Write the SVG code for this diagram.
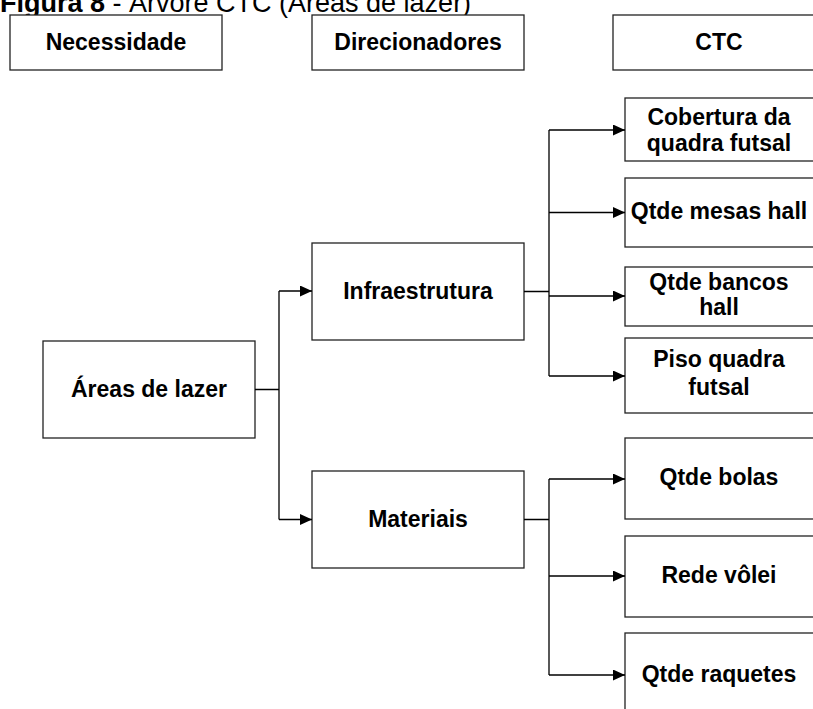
<svg xmlns="http://www.w3.org/2000/svg" width="813" height="709" viewBox="0 0 813 709">
<defs>
<style>
.box{fill:#fff;stroke:#222;stroke-width:1.3}
.lbl{font-family:"Liberation Sans",Arial,sans-serif;font-weight:bold;font-size:23px;fill:#000;text-anchor:middle}
.ttl{font-family:"Liberation Sans",Arial,sans-serif;font-size:27px;fill:#000}
.ln{fill:none;stroke:#000;stroke-width:1.3}
</style>
<marker id="ah" markerWidth="12" markerHeight="11" refX="12" refY="5.5" orient="auto" markerUnits="userSpaceOnUse">
<path d="M0,0 L12,5.5 L0,11 Z" fill="#000"/>
</marker>
</defs>
<rect width="813" height="709" fill="#fff"/>
<text class="ttl" x="0" y="12"><tspan font-weight="bold">Figura 8</tspan> - Árvore CTC (Áreas de lazer)</text>

<g id="h-necessidade"><rect class="box" x="10" y="15" width="212" height="55"/><text class="lbl" x="116" y="50">Necessidade</text></g>
<g id="h-direcionadores"><rect class="box" x="312" y="15" width="212" height="55"/><text class="lbl" x="418" y="50">Direcionadores</text></g>
<g id="h-ctc"><rect class="box" x="613" y="15" width="212" height="55"/><text class="lbl" x="719" y="50">CTC</text></g>

<g id="n-areas"><rect class="box" x="43" y="341" width="212" height="97"/><text class="lbl" x="149" y="397">Áreas de lazer</text></g>
<g id="n-infra"><rect class="box" x="312" y="243" width="212" height="97"/><text class="lbl" x="418" y="299">Infraestrutura</text></g>
<g id="n-materiais"><rect class="box" x="312" y="471" width="212" height="97"/><text class="lbl" x="418" y="527">Materiais</text></g>

<g id="c-cobertura"><rect class="box" x="625" y="98" width="205" height="63"/><text class="lbl" x="719" y="125">Cobertura da</text><text class="lbl" x="719" y="151">quadra futsal</text></g>
<g id="c-mesas"><rect class="box" x="625" y="178" width="205" height="69"/><text class="lbl" x="719" y="219">Qtde mesas hall</text></g>
<g id="c-bancos"><rect class="box" x="625" y="267" width="205" height="59"/><text class="lbl" x="719" y="290">Qtde bancos</text><text class="lbl" x="719" y="315">hall</text></g>
<g id="c-piso"><rect class="box" x="625" y="338" width="205" height="75"/><text class="lbl" x="719" y="367">Piso quadra</text><text class="lbl" x="719" y="395">futsal</text></g>
<g id="c-bolas"><rect class="box" x="625" y="438" width="205" height="81"/><text class="lbl" x="719" y="485">Qtde bolas</text></g>
<g id="c-rede"><rect class="box" x="625" y="536" width="205" height="81"/><text class="lbl" x="719" y="583">Rede vôlei</text></g>
<g id="c-raquetes"><rect class="box" x="625" y="633" width="205" height="90"/><text class="lbl" x="719" y="682">Qtde raquetes</text></g>

<g id="connectors">
<path class="ln" d="M255,389.5 H279 M279,291 V519.5"/>
<path class="ln" d="M279,291 H312" marker-end="url(#ah)"/>
<path class="ln" d="M279,519.5 H312" marker-end="url(#ah)"/>
<path class="ln" d="M524,291.5 H549 M549,130 V376"/>
<path class="ln" d="M549,130 H625" marker-end="url(#ah)"/>
<path class="ln" d="M549,212.5 H625" marker-end="url(#ah)"/>
<path class="ln" d="M549,296 H625" marker-end="url(#ah)"/>
<path class="ln" d="M549,376 H625" marker-end="url(#ah)"/>
<path class="ln" d="M524,519.5 H549 M549,479 V675"/>
<path class="ln" d="M549,479 H625" marker-end="url(#ah)"/>
<path class="ln" d="M549,576 H625" marker-end="url(#ah)"/>
<path class="ln" d="M549,675 H625" marker-end="url(#ah)"/>
</g>
</svg>
